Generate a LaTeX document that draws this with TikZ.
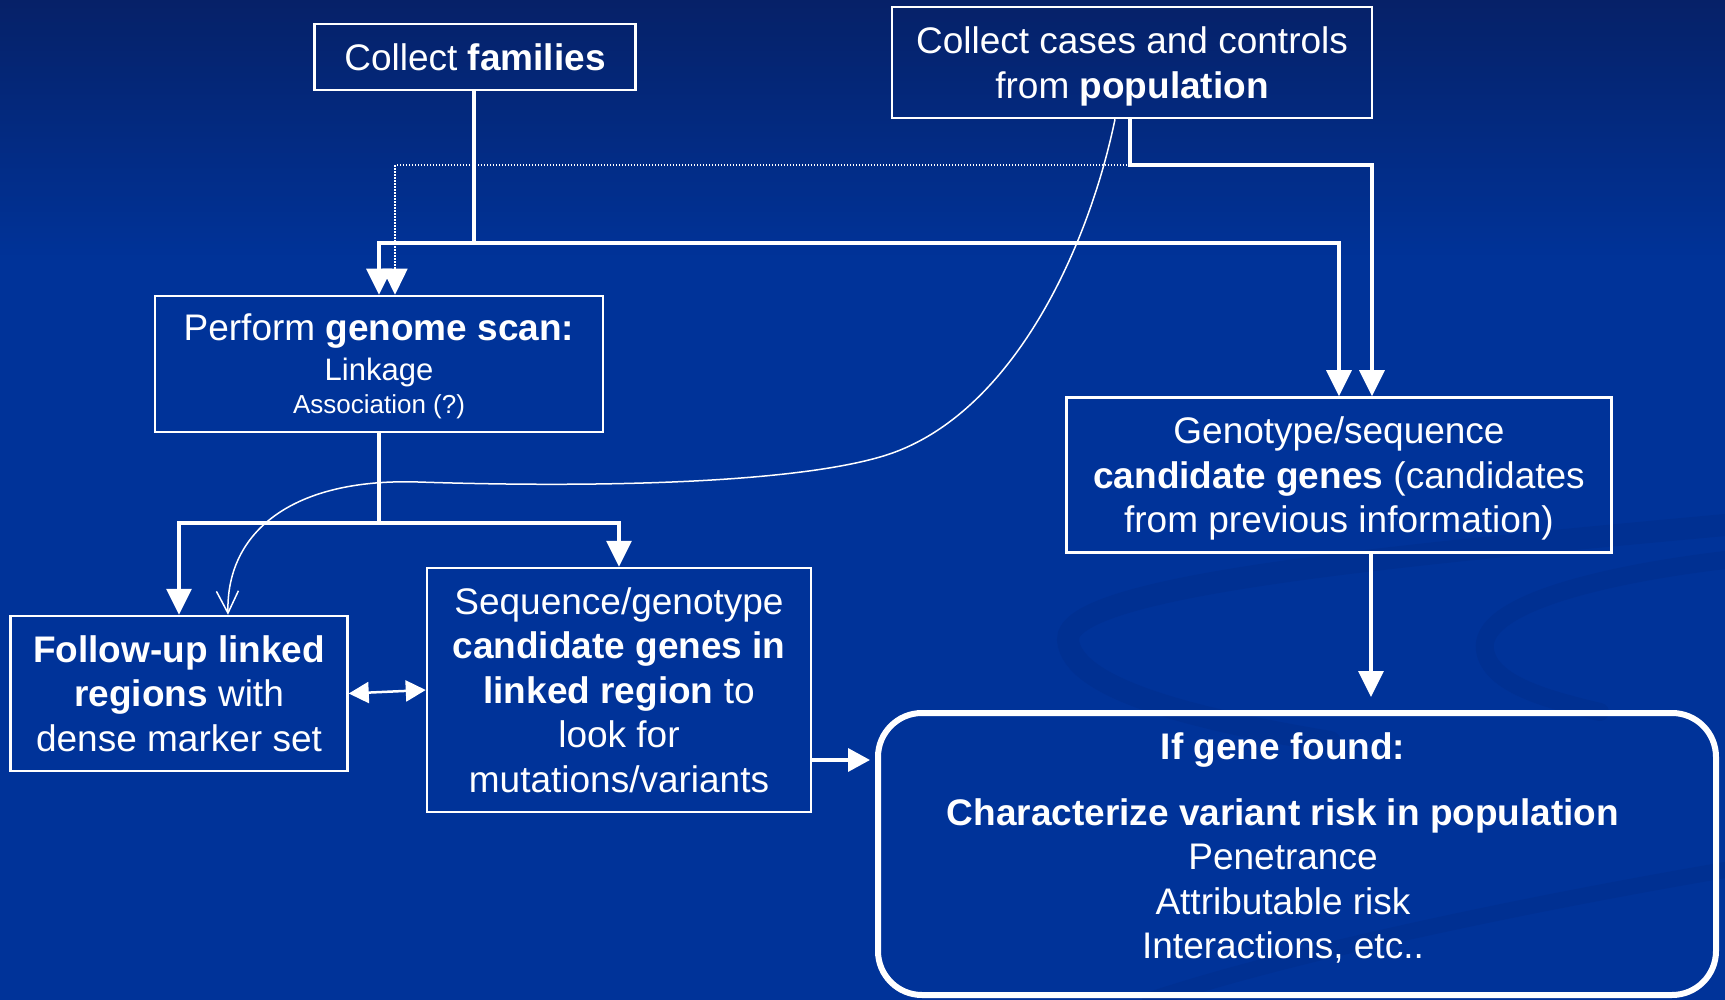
\documentclass[tikz,border=0pt]{standalone}
\usepackage{fontspec}
\setmainfont{Liberation Sans}
\usetikzlibrary{arrows.meta,calc}
\definecolor{bgtop}{RGB}{6,33,104}
\definecolor{bgmain}{RGB}{0,51,153}
\definecolor{swoosh}{RGB}{0,44,136}
\begin{document}
\begin{tikzpicture}[x=1pt,y=-1pt,
  box/.style={draw=white, line width=2.5pt, text=white, align=center, inner sep=0pt,
    text depth=0pt, font=\fontsize{37}{44.5}\selectfont},
  txt/.style={text=white, align=center, inner sep=0pt, font=\fontsize{37}{44.5}\selectfont},
  conn/.style={draw=white, line width=3.5pt, -{Triangle[width=25pt,length=26pt]}},
  smallconn/.style={draw=white, line width=3.5pt, -{Triangle[width=23pt,length=22pt]}},
  dotline/.style={draw=white, line width=1.5pt, dash pattern=on 1.5pt off 1.5pt, -{Triangle[width=25pt,length=26pt]}},
  dblarrow/.style={draw=white, line width=2.5pt, {Triangle[width=21pt,length=20pt]}-{Triangle[width=21pt,length=20pt]}},
  curveline/.style={draw=white, line width=1.5pt, -{Straight Barb[width=22pt,length=22pt,line width=1.5pt]}},
  swooshline/.style={draw=swoosh, line cap=round, opacity=0.4}
]
\useasboundingbox (0,0) rectangle (1725,1000);
% background
\shade[top color=bgtop, bottom color=bgmain] (0,0) rectangle (1725,262);
\fill[bgmain] (0,260) rectangle (1725,1000);
% faint background swooshes
\draw[swooshline, line width=22pt] (1725,525) .. controls (1400,555) and (1065,585) .. (1068,640) .. controls (1072,690) and (1200,720) .. (1330,742);
\draw[swooshline, line width=18pt] (1725,560) .. controls (1600,575) and (1478,605) .. (1485,650) .. controls (1490,685) and (1550,700) .. (1600,712);
\draw[swooshline, line width=16pt] (1725,870) .. controls (1550,900) and (1300,950) .. (1150,1000);

% boxes
\node[box, minimum width=321pt, minimum height=66pt] (fam) at (475,57) {Collect \textbf{families}};
\node[box, minimum width=480pt, minimum height=111pt] (cases) at (1132,62.5) {Collect cases and controls\\from \textbf{population}};
\node[box, minimum width=448pt, minimum height=136pt] (scan) at (379,364)
  {Perform \textbf{genome scan:}\\[-4.5pt]{\fontsize{31}{36}\selectfont Linkage}\\[-11.5pt]{\fontsize{26}{31}\selectfont Association (?)}};
\node[box, minimum width=545pt, minimum height=155pt] (geno) at (1339,475)
  {Genotype/sequence\\\textbf{candidate genes} (candidates\\from previous information)};
\node[box, minimum width=337pt, minimum height=155pt] (follow) at (179,693.5)
  {\textbf{Follow-up linked}\\\textbf{regions} with\\dense marker set};
\node[box, minimum width=384pt, minimum height=244pt] (seqg) at (619,690)
  {Sequence/genotype\\\textbf{candidate genes in}\\\textbf{linked region} to\\look for\\mutations/variants};
\node[draw=white, line width=6pt, rounded corners=44pt, minimum width=838pt, minimum height=282pt] (found) at (1297,854) {};
\node[txt] (foundtxt) at (1283,848)
  {\textbf{If gene found:}\\[21.5pt]\textbf{Characterize variant risk in population}\\Penetrance\\Attributable risk\\Interactions, etc..};

% junction points
\coordinate (fj) at (474,243);
\coordinate (cj) at (1130,165);
\coordinate (sj) at (379,523);
\coordinate (ry) at (0,760);
\coordinate (gt) at (1371,697);
\coordinate (c1) at (880,457);
\coordinate (c2) at (418,482);

% dotted connector
\draw[dotline] (cj) -| ([xshift=16pt]scan.north);
% families connectors
\draw[conn] (fam.south -| fj) -- (fj) -| (scan.north);
\draw[conn] (fj) -| (geno.north);
% cases connector
\draw[conn] (cases.south -| cj) -- (cj) -| ([xshift=33pt]geno.north);
% curved thin connector
\draw[curveline] ([xshift=-17pt]cases.south) .. controls (1088,250) and (1010,420) .. (c1)
  .. controls (790,483) and (600,488) .. (c2)
  .. controls (292,478) and (226,532) .. ([xshift=49pt]follow.north);
% scan connectors
\draw[conn] (scan.south) -- (sj) -| (follow.north);
\draw[conn] (sj) -| (seqg.north);
% double arrow
\draw[dblarrow] (follow.east) -- (seqg.west);
% to found
\draw[smallconn] (seqg.east |- ry) -- ([xshift=-5pt]found.west |- ry);
\draw[conn] (geno.south -| gt) -- (gt);
\end{tikzpicture}
\end{document}
